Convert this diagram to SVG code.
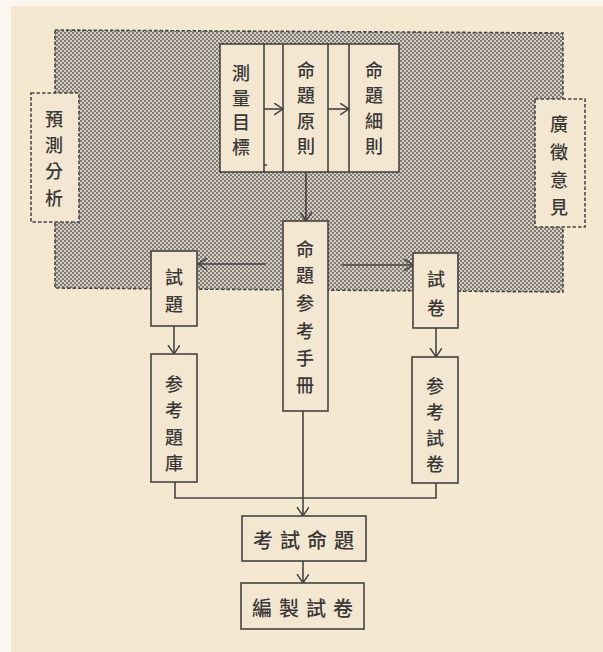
<svg xmlns="http://www.w3.org/2000/svg" width="603" height="652" viewBox="0 0 603 652">
<style>
.t{font-family:"Noto Sans CJK TC","Noto Sans CJK SC",sans-serif;font-size:18px;fill:#3b3838;text-anchor:middle;dominant-baseline:central;font-weight:500}
.h{font-size:20px;letter-spacing:7px}
.box{fill:#f4e7d1;stroke:#474343;stroke-width:1.6}
.dbox{fill:#f4e7d1;stroke:#4a4646;stroke-width:1.6;stroke-dasharray:3.5 2}
.ln{fill:none;stroke:#474343;stroke-width:1.6}
</style>
<defs>
<pattern id="dots" width="4" height="4" patternUnits="userSpaceOnUse">
<rect width="4" height="4" fill="#d9cfc0"/>
<circle cx="1" cy="1" r="1.05" fill="#716e6c"/>
<circle cx="3" cy="3" r="1.05" fill="#716e6c"/>
</pattern>
<marker id="ah" markerUnits="userSpaceOnUse" markerWidth="12" markerHeight="14" refX="9" refY="6" orient="auto">
<path d="M0,0 L9,6 L0,12" fill="none" stroke="#474343" stroke-width="1.5"/>
</marker>
</defs>
<rect width="603" height="652" fill="#fbf7f0"/>
<rect x="11" y="6" width="592" height="646" fill="#f5e8d1"/>
<g id="shade">
<path d="M55,30 L563,33 L563,292 L55,288 Z" fill="url(#dots)" stroke="#4a4646" stroke-width="1.6" stroke-dasharray="3.5 2"/>
</g>
<g id="connectors">
<line class="ln" x1="306" y1="172" x2="306" y2="221" marker-end="url(#ah)"/>
<line class="ln" x1="266" y1="264" x2="198" y2="264" marker-end="url(#ah)"/>
<line class="ln" x1="342" y1="265" x2="413" y2="265" marker-end="url(#ah)"/>
<line class="ln" x1="174" y1="326" x2="174" y2="354" marker-end="url(#ah)"/>
<line class="ln" x1="436" y1="328" x2="436" y2="357" marker-end="url(#ah)"/>
<polyline class="ln" points="175,482 175,498 436,498 436,483"/>
<line class="ln" x1="303" y1="411" x2="303" y2="516" marker-end="url(#ah)"/>
<line class="ln" x1="303" y1="561" x2="303" y2="583" marker-end="url(#ah)"/>
</g>
<g id="n-yuce">
<rect class="dbox" x="31" y="93" width="48" height="129"/>
<text class="t"><tspan x="54" y="118">預</tspan><tspan x="54" y="144">測</tspan><tspan x="54" y="170">分</tspan><tspan x="54" y="197">析</tspan></text>
</g>
<g id="n-guangzheng">
<rect class="dbox" x="535" y="99" width="50" height="128"/>
<text class="t"><tspan x="559" y="123">廣</tspan><tspan x="559" y="151">徵</tspan><tspan x="559" y="179">意</tspan><tspan x="559" y="206">見</tspan></text>
</g>
<g id="n-top">
<rect class="box" x="220" y="44" width="179" height="128"/>
<line class="ln" x1="264" y1="44" x2="264" y2="172"/>
<line class="ln" x1="283" y1="44" x2="283" y2="172"/>
<line class="ln" x1="328" y1="44" x2="328" y2="172"/>
<line class="ln" x1="349" y1="44" x2="349" y2="172"/>
<line class="ln" x1="264" y1="165" x2="267" y2="165"/>
<line class="ln" x1="264" y1="109" x2="283" y2="109" marker-end="url(#ah)"/>
<line class="ln" x1="328" y1="109" x2="349" y2="109" marker-end="url(#ah)"/>
<text class="t"><tspan x="241" y="72">測</tspan><tspan x="241" y="97">量</tspan><tspan x="241" y="121">目</tspan><tspan x="241" y="146">標</tspan></text>
<text class="t"><tspan x="306" y="69">命</tspan><tspan x="306" y="94">題</tspan><tspan x="306" y="120">原</tspan><tspan x="306" y="145">則</tspan></text>
<text class="t"><tspan x="374" y="69">命</tspan><tspan x="374" y="94">題</tspan><tspan x="374" y="120">細</tspan><tspan x="374" y="145">則</tspan></text>
</g>
<g id="n-shouce">
<rect class="box" x="283" y="221" width="45" height="190"/>
<text class="t"><tspan x="305" y="248">命</tspan><tspan x="305" y="274">題</tspan><tspan x="305" y="302">参</tspan><tspan x="305" y="330">考</tspan><tspan x="305" y="357">手</tspan><tspan x="305" y="384">冊</tspan></text>
</g>
<g id="n-shiti">
<rect class="box" x="151" y="251" width="46" height="75"/>
<text class="t"><tspan x="174" y="276">試</tspan><tspan x="174" y="303">題</tspan></text>
</g>
<g id="n-shijuan">
<rect class="box" x="413" y="253" width="45" height="75"/>
<text class="t"><tspan x="436" y="278">試</tspan><tspan x="436" y="307">卷</tspan></text>
</g>
<g id="n-tiku">
<rect class="box" x="151" y="354" width="46" height="128"/>
<text class="t"><tspan x="174" y="383">参</tspan><tspan x="174" y="409">考</tspan><tspan x="174" y="436">題</tspan><tspan x="174" y="462">庫</tspan></text>
</g>
<g id="n-cankaoshijuan">
<rect class="box" x="412" y="357" width="46" height="126"/>
<text class="t"><tspan x="435" y="385">参</tspan><tspan x="435" y="411">考</tspan><tspan x="435" y="437">試</tspan><tspan x="435" y="463">卷</tspan></text>
</g>
<g id="n-kaoshimingti">
<rect class="box" x="242" y="516" width="124" height="45"/>
<text class="t h" x="307" y="539">考試命題</text>
</g>
<g id="n-bianzhi">
<rect class="box" x="241" y="583" width="123" height="46"/>
<text class="t h" x="306" y="607">編製試卷</text>
</g>
</svg>
